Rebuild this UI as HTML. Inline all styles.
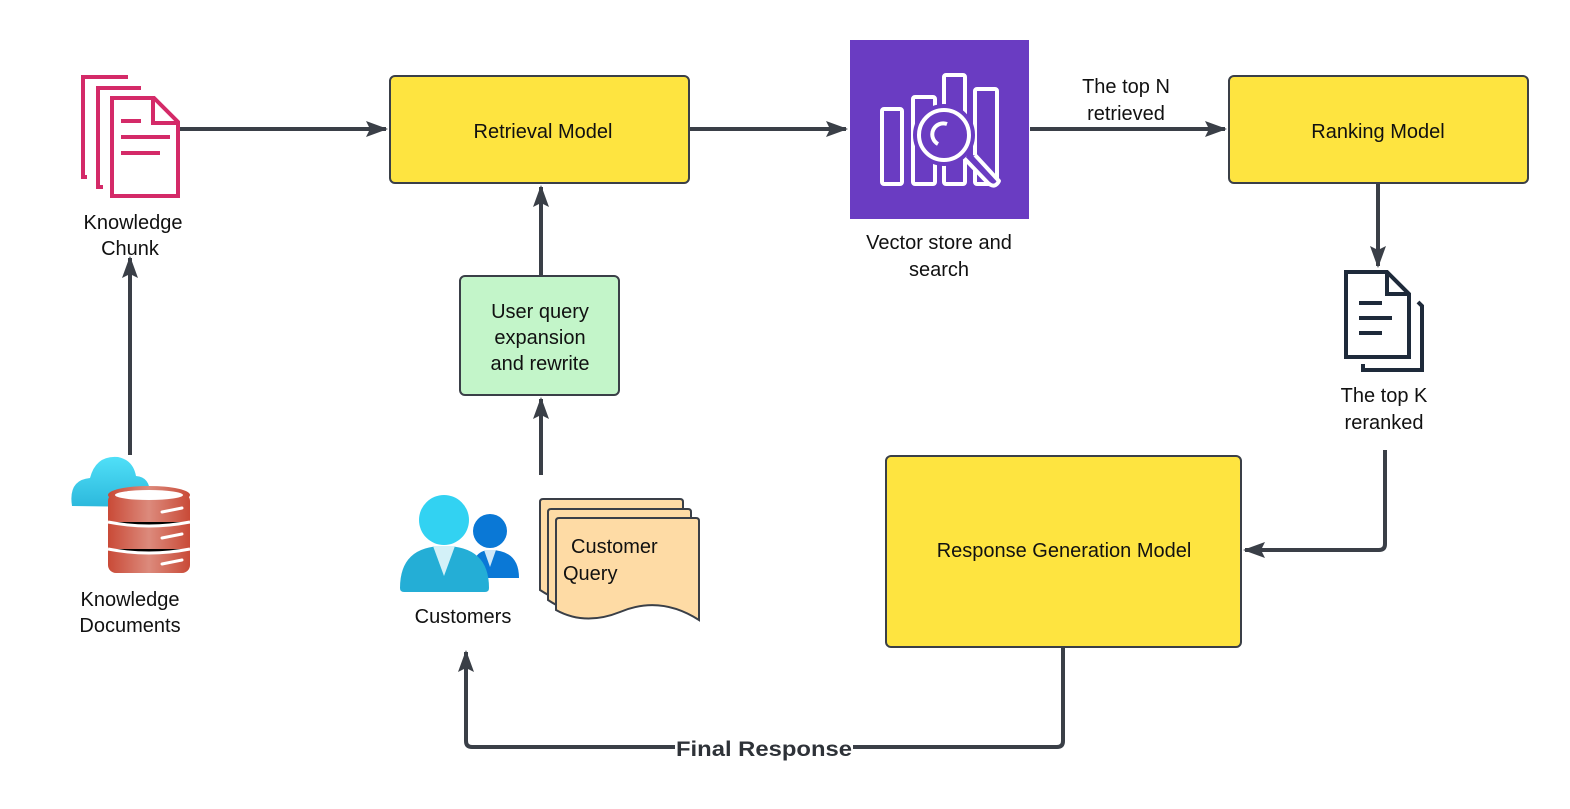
<!DOCTYPE html>
<html><head><meta charset="utf-8"><style>
html,body{margin:0;padding:0;background:#fff}
svg text{font-family:"Liberation Sans",sans-serif;font-size:20px;fill:#111}
</style></head><body>
<svg width="1570" height="804" viewBox="0 0 1570 804" xmlns="http://www.w3.org/2000/svg">
<defs>
<marker id="b" markerWidth="22" markerHeight="16" refX="20" refY="8" orient="auto" markerUnits="userSpaceOnUse"><path d="M0,0 L22,8 L0,16 L4,8 Z" fill="#3a3f47"/></marker>
<linearGradient id="db" x1="0" x2="1"><stop offset="0" stop-color="#c94a37"/><stop offset="0.5" stop-color="#dc8a7c"/><stop offset="1" stop-color="#c94a37"/></linearGradient>
<linearGradient id="cl" x1="0" y1="0" x2="0" y2="1"><stop offset="0" stop-color="#50e0f8"/><stop offset="1" stop-color="#2cb8dc"/></linearGradient>
</defs>
<g stroke="#3a3f47" stroke-width="4" fill="none">
<path d="M180 129 H386" marker-end="url(#b)"/>
<path d="M690 129 H846" marker-end="url(#b)"/>
<path d="M1030 129 H1225" marker-end="url(#b)"/>
<path d="M1378 184 V266" marker-end="url(#b)"/>
<path d="M1385 450 V544 Q1385 550 1379 550 H1245" marker-end="url(#b)"/>
<path d="M1063 648 V741 Q1063 747 1057 747 H472 Q466 747 466 741 V652" marker-end="url(#b)"/>
<path d="M130 455 V258" marker-end="url(#b)"/>
<path d="M541 275 V187" marker-end="url(#b)"/>
<path d="M541 475 V399" marker-end="url(#b)"/>
</g>
<rect x="390" y="76" width="299" height="107" rx="5" fill="#fee440" stroke="#3a3f47" stroke-width="2"/>
<text x="543" y="138" text-anchor="middle">Retrieval Model</text>
<rect x="1229" y="76" width="299" height="107" rx="5" fill="#fee440" stroke="#3a3f47" stroke-width="2"/>
<text x="1378" y="138" text-anchor="middle">Ranking Model</text>
<rect x="886" y="456" width="355" height="191" rx="5" fill="#fee440" stroke="#3a3f47" stroke-width="2"/>
<text x="1064" y="557" text-anchor="middle">Response Generation Model</text>
<rect x="460" y="276" width="159" height="119" rx="5" fill="#c3f5c9" stroke="#3a3f47" stroke-width="2"/>
<text x="540" y="318" text-anchor="middle">User query</text>
<text x="540" y="344" text-anchor="middle">expansion</text>
<text x="540" y="370" text-anchor="middle">and rewrite</text>
<!-- vector store -->
<rect x="850" y="40" width="179" height="179" fill="#6a3cc2"/>
<g stroke="#fff" stroke-width="4" fill="none" stroke-linejoin="round">
<rect x="882" y="109" width="20" height="75" rx="2"/>
<rect x="913" y="97" width="22" height="87" rx="2"/>
<rect x="944" y="75" width="21" height="109" rx="2"/>
<rect x="975" y="89" width="22" height="95" rx="2"/>
<path d="M963 157 L988 183 Q995 189 999 181 L975 155" fill="#6a3cc2"/>
<circle cx="944" cy="135" r="26" fill="#6a3cc2" stroke="#6a3cc2" stroke-width="10"/>
<circle cx="944" cy="135" r="25" fill="#6a3cc2"/>
<path d="M938 144 A11 11 0 0 1 947 124"/>
</g>
<text x="939" y="249" text-anchor="middle">Vector store and</text>
<text x="939" y="276" text-anchor="middle">search</text>
<text x="1126" y="93" text-anchor="middle">The top N</text>
<text x="1126" y="120" text-anchor="middle">retrieved</text>
<!-- knowledge chunk icon -->
<g stroke="#d42a68" stroke-width="4" fill="none">
<path d="M128 77 H83 V177 H87"/>
<path d="M141 88 H98 V187 H103"/>
<path d="M112 98 H154 L178 122 V196 H112 Z" fill="#fff"/>
<path d="M153 98 V123 H178"/>
<path d="M121 121 H141 M121 137 H170 M121 153 H160"/>
</g>
<text x="133" y="229" text-anchor="middle">Knowledge</text>
<text x="130" y="255" text-anchor="middle">Chunk</text>
<!-- knowledge docs -->
<path d="M72 506 Q68 480 90 478 Q96 455 118 457 Q133 460 136 476 Q150 477 150 494 L150 507 Z" fill="url(#cl)"/>
<rect x="108" y="493" width="82" height="80" rx="8" fill="url(#db)"/>
<ellipse cx="149" cy="495" rx="41" ry="9" fill="url(#db)"/>
<ellipse cx="149" cy="495" rx="34" ry="5" fill="#fff"/>
<g stroke="#fff" stroke-width="3"><path d="M108 522 Q149 530 190 522 M108 549 Q149 557 190 549"/><path d="M162 512 L182 508 M162 538 L182 534 M162 564 L182 560" stroke-linecap="round"/></g>
<text x="130" y="606" text-anchor="middle">Knowledge</text>
<text x="130" y="632" text-anchor="middle">Documents</text>
<!-- customers -->
<circle cx="490" cy="531" r="17" fill="#0a78d6"/>
<path d="M471 578 Q471 550 490 550 Q519 550 519 578 Z" fill="#0a78d6"/>
<path d="M484 550 L496 550 L490 567 Z" fill="#d0e8f8"/>
<circle cx="444" cy="520" r="25" fill="#32d2f2"/>
<path d="M400 588 Q400 546 444 546 Q489 546 489 588 Q489 592 485 592 H404 Q400 592 400 588 Z" fill="#24aed6"/>
<path d="M433 546 L455 546 L444 576 Z" fill="#d3f1f8"/>
<text x="463" y="623" text-anchor="middle">Customers</text>
<!-- customer query -->
<g stroke="#3a3f47" stroke-width="2" fill="#fedba5">
<path d="M540 502 Q540 499 543 499 H680 Q683 499 683 502 V590 Q640 570 600 600 Q570 610 540 590 Z"/>
<path d="M548 512 Q548 509 551 509 H688 Q691 509 691 512 V600 Q648 580 608 610 Q578 620 548 600 Z"/>
<path d="M556 521 Q556 518 559 518 H696 Q699 518 699 521 V620 Q660 595 620 612 Q585 626 556 610 Z"/>
</g>
<text x="571" y="553">Customer</text>
<text x="563" y="580">Query</text>
<!-- top K docs -->
<g stroke="#1e2a3a" stroke-width="4" fill="none">
<path d="M1418 302 L1422 306 V370 H1363 V364"/>
<path d="M1346 272 H1387 L1409 294 V357 H1346 Z" fill="#fff"/>
<path d="M1387 272 V294 H1409"/>
<path d="M1359 303 H1382 M1359 318 H1392 M1359 333 H1382"/>
</g>
<text x="1384" y="402" text-anchor="middle">The top K</text>
<text x="1384" y="429" text-anchor="middle">reranked</text>
<rect x="675" y="736" width="178" height="24" fill="#fff"/>
<text x="764" y="756" text-anchor="middle" textLength="176" lengthAdjust="spacingAndGlyphs" style="font-weight:bold;font-size:21px;fill:#2e3238">Final Response</text>
</svg>
</body></html>
